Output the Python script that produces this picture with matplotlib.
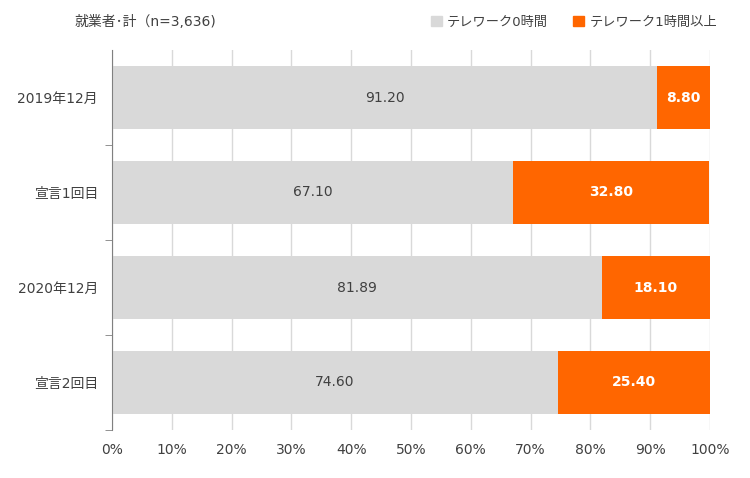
import matplotlib
matplotlib.use("Agg")
import matplotlib.pyplot as plt
import numpy as np

plt.rcParams['font.family'] = ['DejaVu Sans', 'Noto Sans CJK JP']

categories = ["2019年12月", "宣言1回目", "2020年12月", "宣言2回目"]
tele0 = [91.20, 67.10, 81.89, 74.60]
tele1 = [8.80, 32.80, 18.10, 25.40]
labels0 = ["91.20", "67.10", "81.89", "74.60"]
labels1 = ["8.80", "32.80", "18.10", "25.40"]
series_names = ["テレワーク0時間", "テレワーク1時間以上"]
xticks = [0, 10, 20, 30, 40, 50, 60, 70, 80, 90, 100]
title = "就業者･計（n=3,636)"

grey = "#D9D9D9"
orange = "#FF6600"
txt = '#404040'
fs = 10

fig = plt.figure(figsize=(7.5, 4.78), dpi=100)
ax = fig.add_axes([112/750, 1-430/478, 598/750, 380/478])

y = np.arange(len(categories))
h = 0.66
ax.barh(y, tele0, height=h, color=grey, zorder=2, label=series_names[0])
ax.barh(y, tele1, left=tele0, height=h, color=orange, zorder=2, label=series_names[1])

for i in range(len(categories)):
    ax.text(tele0[i]/2, y[i], labels0[i], ha='center', va='center', fontsize=fs, color=txt, zorder=3)
    ax.text(tele0[i] + tele1[i]/2, y[i], labels1[i], ha='center', va='center', fontsize=fs,
            color='white', fontweight='bold', zorder=3)

ax.set_xlim(0, 100)
ax.set_ylim(3.5, -0.5)
ax.set_xticks(xticks)
ax.set_xticklabels([f"{v}%" for v in xticks], fontsize=fs, color=txt)
ax.tick_params(axis='x', length=0, pad=9)
ax.grid(axis='x', color='#D9D9D9', linewidth=1, zorder=0)

ax.set_yticks(y)
ax.set_yticklabels(categories, fontsize=fs, color=txt)
ax.tick_params(axis='y', length=0, pad=10)
ax.set_yticks([0.5, 1.5, 2.5, 3.5], minor=True)
ax.tick_params(axis='y', which='minor', length=5, color='#808080', direction='out')

for s in ['top', 'right', 'bottom']:
    ax.spines[s].set_visible(False)
ax.spines['left'].set_color('#808080')

fig.text(75/750, 1-22/478, title, fontsize=fs, color=txt, va='center', ha='left')

from matplotlib.patches import Patch
handles = [Patch(color=grey), Patch(color=orange)]
leg = fig.legend(handles, series_names, loc='center right', bbox_to_anchor=(717/750, 1-22/478),
                 ncol=2, frameon=False, fontsize=9.5, handlelength=0.8, handleheight=0.8,
                 handletextpad=0.4, columnspacing=1.9, borderaxespad=0, borderpad=0)
for t in leg.get_texts():
    t.set_color(txt)

fig.savefig("out.png", dpi=100)
